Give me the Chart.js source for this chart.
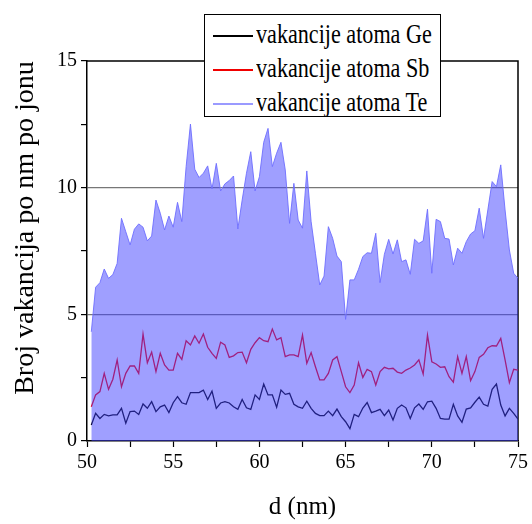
<!DOCTYPE html>
<html>
<head>
<meta charset="utf-8">
<script src="https://cdn.jsdelivr.net/npm/chart.js@4"></script>
<style>
    body { margin: 0; background: #fff; }
    #wrap { position: relative; width: 532px; height: 524px; }
    #legendBox {
        position: absolute; left: 204px; top: 14px; width: 237px; height: 103px;
        box-sizing: border-box; border: 1px solid #000; background: #fff;
    }
    .row { position: absolute; left: 0; height: 30px; width: 235px; }
    .swatch { position: absolute; left: 8px; top: 14px; width: 40px; height: 1.5px; }
    .lbl {
        position: absolute; left: 51px; top: 0; font-family: "Liberation Serif", serif;
        font-size: 27px; line-height: 27px; white-space: nowrap; color: #000;
        transform: scaleX(0.82); transform-origin: left center;
    }
</style>
</head>
<body>
<div id="wrap">
    <canvas id="chart" width="532" height="524"></canvas>
    <div id="legendBox">
        <div class="row" style="top:6px"><div class="swatch" style="background:#000"></div><div class="lbl">vakancije atoma Ge</div></div>
        <div class="row" style="top:40px"><div class="swatch" style="background:#f00000"></div><div class="lbl">vakancije atoma Sb</div></div>
        <div class="row" style="top:74px"><div class="swatch" style="background:#9a9aff"></div><div class="lbl">vakancije atoma Te</div></div>
    </div>
</div>
<script>
// depth (nm)
const depth = [
    50.25, 50.5, 50.75, 51, 51.25, 51.5, 51.75, 52, 52.25, 52.5,
    52.75, 53, 53.25, 53.5, 53.75, 54, 54.25, 54.5, 54.75, 55,
    55.25, 55.5, 55.75, 56, 56.25, 56.5, 56.75, 57, 57.25, 57.5,
    57.75, 58, 58.25, 58.5, 58.75, 59, 59.25, 59.5, 59.75, 60,
    60.25, 60.5, 60.75, 61, 61.25, 61.5, 61.75, 62, 62.25, 62.5,
    62.75, 63, 63.25, 63.5, 63.75, 64, 64.25, 64.5, 64.75, 65,
    65.25, 65.5, 65.75, 66, 66.25, 66.5, 66.75, 67, 67.25, 67.5,
    67.75, 68, 68.25, 68.5, 68.75, 69, 69.25, 69.5, 69.75, 70,
    70.25, 70.5, 70.75, 71, 71.25, 71.5, 71.75, 72, 72.25, 72.5,
    72.75, 73, 73.25, 73.5, 73.75, 74, 74.25, 74.5, 74.75, 75
];

const teVac = [
    4.31, 6.07, 6.25, 6.79, 6.42, 6.57, 7.01, 8.79, 8.26, 7.74,
    8.36, 8.57, 8.44, 7.90, 8.09, 9.51, 8.99, 8.33, 8.88, 8.44,
    9.42, 8.66, 10.83, 12.51, 10.73, 10.40, 10.57, 10.86, 9.95, 10.96,
    9.87, 10.15, 10.28, 10.46, 8.37, 9.51, 10.57, 11.42, 9.87, 10.43,
    11.79, 12.34, 10.83, 11.36, 11.79, 10.70, 8.59, 10.17, 8.72, 8.40,
    10.66, 8.66, 7.41, 6.16, 6.51, 8.46, 8.00, 7.30, 7.08, 4.80,
    6.36, 6.36, 6.78, 7.28, 7.43, 7.41, 8.20, 6.25, 7.37, 7.96,
    7.38, 7.94, 7.08, 7.15, 6.58, 7.96, 7.80, 7.90, 9.15, 6.62,
    8.75, 8.66, 8.00, 7.97, 6.95, 7.61, 7.41, 7.87, 8.17, 8.30,
    9.19, 8.00, 9.12, 10.24, 10.04, 10.90, 9.12, 7.54, 6.62, 6.42
];

const sbVac = [
    1.35, 1.82, 1.95, 2.67, 2.04, 2.44, 3.20, 2.14, 2.67, 2.96,
    2.96, 2.67, 4.22, 3.09, 3.51, 2.74, 3.46, 3.00, 2.80, 2.80,
    3.46, 3.22, 3.96, 3.79, 4.15, 3.86, 4.22, 3.70, 3.46, 3.26,
    3.90, 3.79, 3.30, 3.36, 3.49, 3.51, 3.09, 3.62, 3.88, 4.08,
    3.96, 3.92, 4.42, 3.99, 4.08, 3.33, 3.40, 3.40, 3.33, 4.18,
    3.07, 3.49, 2.93, 2.41, 2.41, 2.67, 3.20, 3.33, 2.74, 2.14,
    1.91, 2.21, 3.09, 2.51, 2.83, 2.74, 2.21, 2.74, 2.91, 2.85,
    2.87, 2.72, 2.67, 2.80, 2.88, 3.00, 3.20, 2.64, 4.18, 3.13,
    3.04, 2.91, 2.93, 2.54, 2.32, 3.33, 2.67, 3.33, 2.38, 2.74,
    3.30, 3.42, 3.68, 3.76, 3.75, 4.05, 3.20, 2.30, 2.83, 2.80
];

const geVac = [
    0.63, 1.09, 0.89, 1.05, 0.99, 1.03, 1.03, 1.29, 0.70, 1.16,
    1.18, 1.05, 1.46, 1.29, 1.55, 1.16, 1.35, 1.42, 1.12, 1.51,
    1.75, 1.51, 1.45, 1.91, 1.91, 1.91, 2.01, 1.64, 1.97, 1.29,
    1.50, 1.55, 1.50, 1.35, 1.25, 1.64, 1.31, 1.25, 1.82, 1.64,
    2.25, 1.82, 1.82, 1.33, 2.01, 1.84, 1.88, 1.45, 1.35, 1.29,
    1.57, 1.29, 1.09, 1.00, 1.00, 1.18, 1.00, 1.26, 0.96, 0.76,
    0.49, 1.05, 0.96, 1.30, 1.52, 1.12, 1.18, 1.25, 1.00, 1.22,
    0.83, 1.29, 1.42, 1.31, 0.89, 1.31, 1.46, 1.25, 1.55, 1.57,
    1.29, 0.89, 0.86, 0.86, 1.45, 0.99, 0.74, 1.26, 1.31, 1.53,
    1.73, 1.45, 1.38, 2.04, 2.25, 1.42, 0.99, 1.29, 1.09, 0.86
];

const yTitle = "Broj vakancija po nm po jonu";
const xTitle = "d (nm)";

const pts = arr => arr.map((v, i) => ({ x: depth[i], y: v }));
const tickFont = { family: "Liberation Serif", size: 20 };

// frame top/right, drawn under the fill
const framePlugin = {
    id: 'frame',
    beforeDatasetsDraw(chart) {
        const { ctx, chartArea: a } = chart;
        ctx.save();
        ctx.strokeStyle = '#000';
        ctx.lineWidth = 1.5;
        ctx.beginPath();
        ctx.moveTo(a.left, a.top);
        ctx.lineTo(a.right, a.top);
        ctx.lineTo(a.right, a.bottom);
        ctx.stroke();
        ctx.restore();
    },
    afterDraw(chart) {
        const ctx = chart.ctx;
        ctx.save();
        ctx.translate(33, 228);
        ctx.rotate(-Math.PI / 2);
        ctx.font = '28px "Liberation Serif"';
        ctx.fillStyle = '#000';
        ctx.textAlign = 'center';
        ctx.textBaseline = 'alphabetic';
        ctx.fillText(yTitle, 0, 0);
        ctx.restore();
    }
};

new Chart(document.getElementById('chart'), {
    type: 'line',
    data: {
        datasets: [
            {
                label: 'vakancije atoma Te',
                data: pts(teVac),
                borderColor: 'rgba(110,110,255,0.9)',
                backgroundColor: 'rgba(64,64,255,0.5)',
                borderWidth: 1,
                fill: 'origin',
                pointRadius: 0,
                tension: 0
            },
            {
                label: 'vakancije atoma Sb',
                data: pts(sbVac),
                borderColor: '#ff0000',
                borderWidth: 1.3,
                fill: false,
                pointRadius: 0,
                tension: 0
            },
            {
                label: 'vakancije atoma Ge',
                data: pts(geVac),
                borderColor: '#000000',
                borderWidth: 1.3,
                fill: false,
                pointRadius: 0,
                tension: 0
            }
        ]
    },
    options: {
        responsive: false,
        animation: false,
        layout: { padding: { left: 0, top: 61, right: 13, bottom: 0 } },
        plugins: { legend: { display: false }, tooltip: { enabled: false } },
        scales: {
            x: {
                type: 'linear',
                min: 50,
                max: 75,
                afterFit: s => { s.height = 83; },
                border: { color: '#000', width: 1.5 },
                grid: { color: 'rgba(0,0,0,0)', tickColor: '#000', tickLength: 6, tickWidth: 1.2 },
                ticks: {
                    stepSize: 2.5,
                    color: '#000',
                    font: tickFont,
                    padding: 4,
                    maxRotation: 0,
                    autoSkip: false,
                    callback: v => (v % 5 === 0 ? v : '')
                },
                title: {
                    display: true,
                    text: xTitle,
                    color: '#000',
                    font: { family: "Liberation Serif", size: 25 },
                    padding: { top: 0, bottom: 2 }
                }
            },
            y: {
                min: 0,
                max: 15,
                afterFit: s => { s.width = 87; },
                border: { color: '#000', width: 1.5 },
                grid: {
                    color: c => (c.tick && (c.tick.value === 5 || c.tick.value === 10) ? '#777' : 'rgba(0,0,0,0)'),
                    lineWidth: 1.2,
                    tickColor: '#000',
                    tickLength: 6,
                    tickWidth: 1.2
                },
                ticks: {
                    stepSize: 2.5,
                    color: '#000',
                    font: tickFont,
                    padding: 4,
                    autoSkip: false,
                    callback: v => (v % 5 === 0 ? v : '')
                }
            }
        }
    },
    plugins: [framePlugin]
});
</script>
</body>
</html>
